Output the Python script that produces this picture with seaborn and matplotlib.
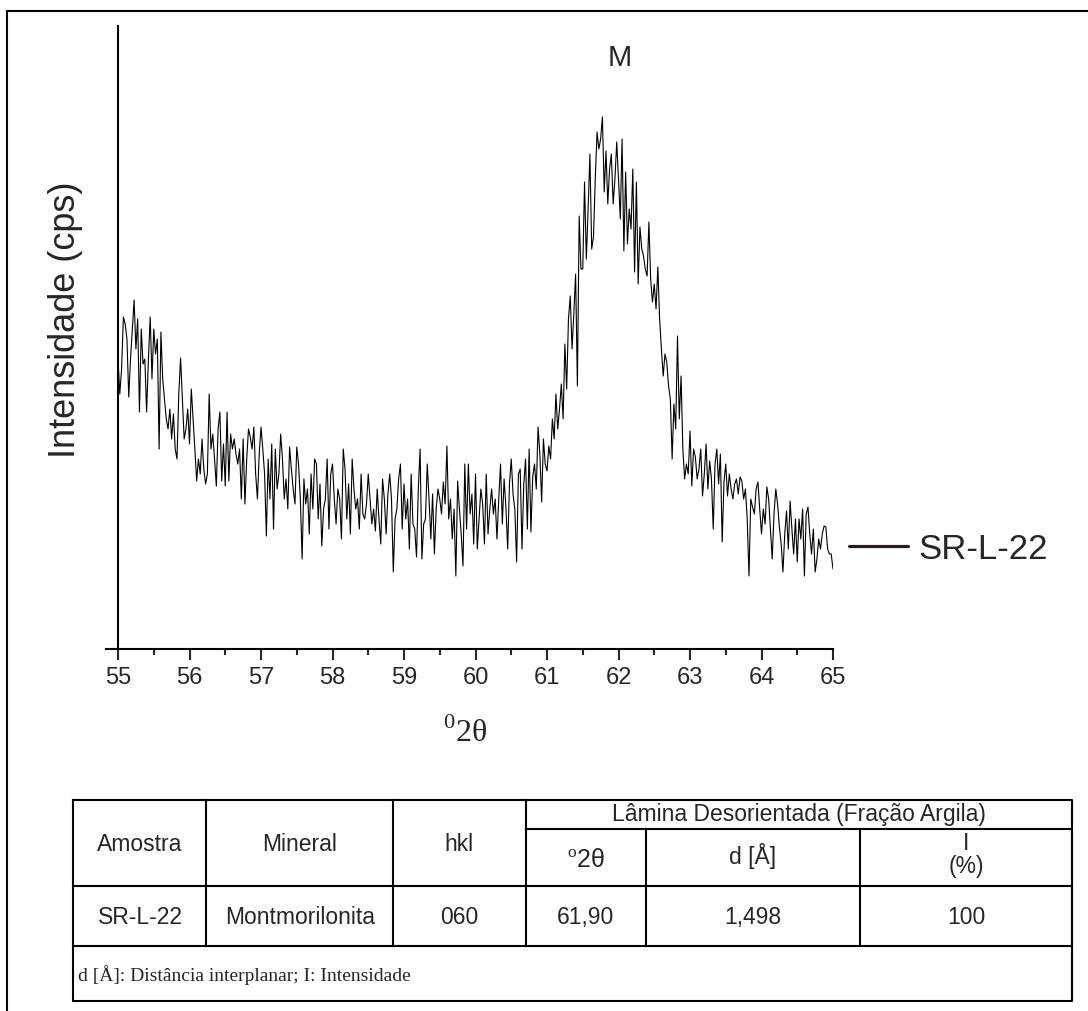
import numpy as np
import pandas as pd
import matplotlib
matplotlib.use("Agg")
import matplotlib.pyplot as plt
import seaborn as sns

# scan: 55-65 deg 2theta, step 0.025
scan_start = 55.0
scan_step = 0.025
intensity = [
    290, 255, 280, 332, 325, 310, 252, 290, 320, 349, 300, 330, 237, 320, 285, 290, 237, 290, 332, 270,
    320, 295, 310, 200, 317, 270, 250, 230, 220, 240, 210, 235, 200, 190, 255, 291, 250, 210, 220, 240,
    205, 260, 230, 200, 168, 190, 175, 210, 180, 165, 175, 255, 200, 215, 190, 163, 220, 237, 168, 205,
    163, 237, 168, 215, 200, 210, 195, 185, 200, 150, 210, 145, 190, 220, 212, 200, 222, 175, 150, 195,
    222, 200, 175, 113, 190, 150, 205, 120, 200, 160, 175, 215, 190, 150, 170, 140, 202, 180, 160, 145,
    202, 185, 150, 90, 170, 145, 160, 115, 175, 140, 190, 185, 130, 165, 103, 140, 150, 190, 120, 175,
    185, 150, 125, 160, 150, 110, 200, 180, 130, 165, 115, 190, 160, 140, 150, 120, 175, 135, 130, 145,
    175, 150, 125, 140, 118, 160, 130, 105, 170, 150, 115, 155, 175, 150, 77, 130, 140, 170, 185, 120,
    165, 130, 150, 100, 175, 125, 120, 92, 160, 200, 90, 125, 130, 185, 150, 110, 155, 95, 140, 160,
    150, 135, 167, 145, 203, 130, 150, 110, 140, 73, 168, 140, 115, 83, 185, 120, 185, 135, 155, 105,
    175, 100, 130, 160, 145, 105, 175, 115, 140, 160, 135, 150, 110, 150, 185, 125, 170, 142, 100, 165,
    190, 155, 140, 87, 175, 180, 100, 165, 190, 120, 200, 117, 172, 185, 160, 222, 195, 147, 210, 185,
    178, 203, 190, 230, 210, 255, 220, 240, 265, 230, 305, 260, 330, 353, 300, 335, 375, 263, 433, 380,
    380, 467, 390, 440, 495, 400, 412, 470, 517, 500, 510, 532, 457, 498, 445, 480, 495, 445, 470, 507,
    470, 430, 510, 398, 477, 405, 440, 420, 480, 377, 467, 365, 422, 400, 393, 380, 373, 427, 370, 347,
    365, 340, 382, 330, 300, 273, 295, 287, 263, 250, 190, 245, 220, 313, 230, 273, 200, 170, 185, 175,
    218, 163, 200, 192, 170, 180, 200, 153, 175, 205, 160, 188, 170, 120, 185, 200, 165, 195, 107, 167,
    185, 153, 175, 160, 150, 165, 170, 155, 172, 168, 150, 160, 130, 73, 150, 142, 135, 160, 167, 140,
    115, 140, 125, 162, 150, 120, 90, 135, 160, 145, 122, 105, 77, 115, 138, 100, 148, 120, 95, 130,
    87, 130, 110, 140, 73, 135, 142, 115, 95, 120, 77, 90, 110, 100, 115, 123, 122, 100, 95, 95,
    80,
]
sample_name = "SR-L-22"
peak_label = "M"
peak_pos = (62.02, 592)
x_ticks = list(range(55, 66))

# table contents
col_headers = ["Amostra", "Mineral", "hkl"]
group_header = "Lâmina Desorientada (Fração Argila)"
sub_headers = [r"$^{\mathrm{o}}$2θ", "d [Å]", "I\n(%)"]
table_row = ["SR-L-22", "Montmorilonita", "060", "61,90", "1,498", "100"]
footnote = "d [Å]: Distância interplanar; I: Intensidade"

two_theta = scan_start + scan_step * np.arange(len(intensity))
df = pd.DataFrame({"two_theta": two_theta, "cps": intensity})

sns.set_style("white")
plt.rcParams['font.family'] = ['Liberation Sans', 'DejaVu Sans']
plt.rcParams['mathtext.fontset'] = 'custom'
plt.rcParams['mathtext.rm'] = 'Liberation Serif'

W, H = 1088, 1012
fig = plt.figure(figsize=(W / 100, H / 100), dpi=100)
ax = fig.add_axes([106 / W, 362 / H, 727 / W, 623 / H])

sns.lineplot(data=df, x="two_theta", y="cps", color="black", linewidth=0.8,
             estimator=None, label=sample_name, ax=ax)

ax.set_xlim(54.832, 65.0)
ax.set_ylim(0, 623)
ax.spines['top'].set_visible(False)
ax.spines['right'].set_visible(False)
ax.spines['left'].set_position(('data', 55))
for s in ['left', 'bottom']:
    ax.spines[s].set_linewidth(1.5)
    ax.spines[s].set_color('black')
ax.set_yticks([])
ax.set_xticks(x_ticks)
ax.set_xticks(np.arange(55.5, 65, 1.0), minor=True)
ax.tick_params(axis='x', which='major', direction='out', length=8, width=1.5,
               labelsize=17, pad=4, bottom=True)
ax.tick_params(axis='x', which='minor', direction='out', length=4, width=1.5, bottom=True)

ax.set_ylabel("Intensidade (cps)", fontsize=26)
ax.yaxis.set_label_coords(-0.056, 0.53)
ax.yaxis.label.set_va('center')
ax.set_xlabel(r"$^{\mathrm{0}}$2θ", fontsize=23, family=['Liberation Serif'])
ax.xaxis.set_label_coords(0.494, -0.133)
ax.xaxis.label.set_va('center')

ax.text(peak_pos[0], peak_pos[1], peak_label, fontsize=21, ha='center', va='center')

leg = ax.legend(loc='center left', bbox_to_anchor=(849 / W, 1 - 550 / H),
                bbox_transform=fig.transFigure, frameon=False, fontsize=25,
                handlelength=1.7, handletextpad=0.3, borderpad=0, borderaxespad=0)
leg.get_lines()[0].set_linewidth(2.3)
leg.get_lines()[0].set_color('#231f20')

# overlay in pixel units for the outer frame and the table
ov = fig.add_axes([0, 0, 1, 1])
ov.set_xlim(0, W)
ov.set_ylim(H, 0)
ov.axis('off')
lk = dict(color='black', linewidth=1.5, solid_capstyle='projecting')
ov.plot([7, 7], [12, H], color='black', linewidth=1.5)
ov.plot([7, W], [12, 12], color='black', linewidth=1.5)

tl, tr, tt, tsub, thead, trow, tb = 73, 1072, 801, 830, 887, 947, 1002
ov.plot([tl, tr, tr, tl, tl], [tt, tt, tb, tb, tt], **lk)
ov.plot([526, tr], [tsub, tsub], **lk)
ov.plot([tl, tr], [thead, thead], **lk)
ov.plot([tl, tr], [trow, trow], **lk)
for xv in [206, 393, 526]:
    ov.plot([xv, xv], [tt, trow], **lk)
for xv in [646, 860]:
    ov.plot([xv, xv], [tsub, trow], **lk)

fs = 16.5
col_centers = [140, 300, 459, 586, 753, 966]
for c, t in zip(col_centers[:3], col_headers):
    ov.text(c, 845, t, fontsize=fs, ha='center', va='center')
ov.text(799, 815, group_header, fontsize=fs, ha='center', va='center')
ov.text(col_centers[3], 860, sub_headers[0], fontsize=18, ha='center', va='center')
ov.text(col_centers[4], 856, sub_headers[1], fontsize=fs, ha='center', va='center')
ov.text(col_centers[5], 855, sub_headers[2], fontsize=fs, ha='center', va='center',
        linespacing=1.05)
for c, t in zip(col_centers, table_row):
    ov.text(c, 918, t, fontsize=fs, ha='center', va='center')
ov.text(78, 975, footnote, fontsize=14, ha='left', va='center', family=['Liberation Serif'])

fig.savefig("out.png", dpi=100)
